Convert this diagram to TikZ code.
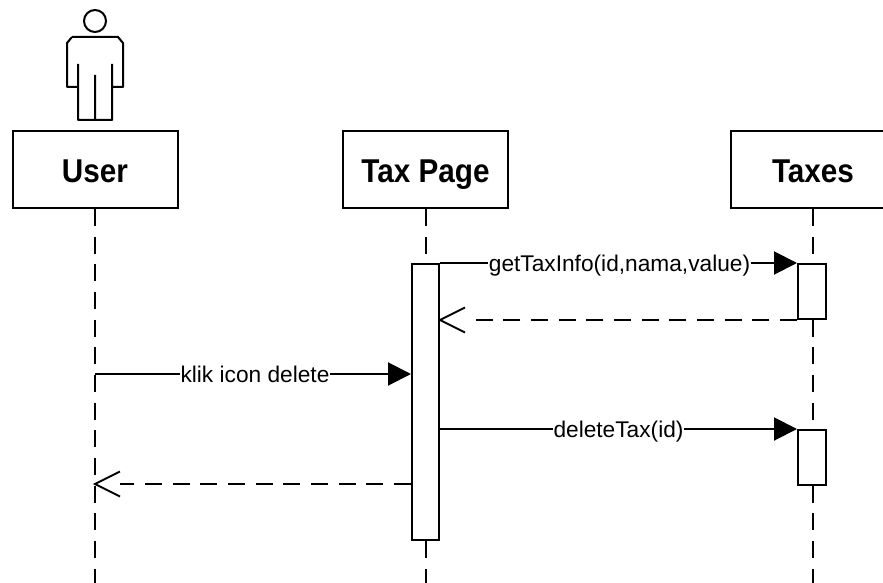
\documentclass[tikz,border=0pt]{standalone}
\usepackage{fontspec}
\setmainfont{Liberation Sans}
\newfontfamily\headfont[FakeStretch=0.9]{Liberation Sans}
\usetikzlibrary{arrows.meta}
\tikzset{
    head/.style={draw,line width=2pt,fill=white,minimum width=165pt,minimum height=77pt,inner sep=0pt,text height=25pt,text depth=0pt,font=\fontsize{33}{36}\headfont\bfseries},
    lifeline/.style={line width=2pt,dash pattern=on 17pt off 10.67pt},
    bar/.style={draw,line width=2pt,fill=white,inner sep=0pt,anchor=north},
    call/.style={line width=2pt,-{Triangle[length=23pt,width=23pt]}},
    back/.style={line width=2pt,dash pattern=on 17pt off 10.67pt,shorten >=25pt},
    barb/.style={line width=2pt,line join=miter},
    msg/.style={fill=white,inner sep=0.5pt,text height=18pt,text depth=1pt,font=\fontsize{22.7}{25}\selectfont}
}
\begin{document}
\begin{tikzpicture}[x=1pt,y=-1pt]
    \useasboundingbox (0,0) rectangle (883,583);
    \clip (0,0) rectangle (883,583);
    \fill[white] (0,0) rectangle (883,583);
    % heads and lifelines
    \foreach \name/\txt/\x in {user/User/95,taxpage/Tax Page/425.5,taxes/Taxes/813}{
        \node[head] (\name) at (\x,169.5) {\txt};
        \coordinate (\name end) at (\x,583);
        \draw[lifeline] (\name.south) -- (\name end);
    }
    % actor
    \node[draw,circle,line width=2pt,minimum size=22pt,inner sep=0pt] (userhead) at (95,21) {};
    \draw[line width=2pt,line join=round] (72,37) -- (118,37) -- (123,43) -- (123,87) -- (112,87)
        (112,64) -- (112,120) -- (78,120) -- (78,64)
        (78,87) -- (67,87) -- (67,43) -- (72,37)
        (95,75) -- (95,120);
    % activations
    \node[bar,minimum width=27pt,minimum height=276pt] (taxpagebar) at (425.5,263) {};
    \node[bar,minimum width=28pt,minimum height=55pt] (taxesbar) at (812,263) {};
    \node[bar,minimum width=28pt,minimum height=55pt] (deletebar) at (812,429) {};
    \coordinate (klik) at (user.south |- 0,374);
    \coordinate (kembali) at (user.south |- 0,484);
    \coordinate (balas) at (taxesbar.south west -| taxpagebar.east);
    % messages
    \draw[call] (taxpagebar.north east) -- node[msg,xshift=1pt] (getinfo) {getTaxInfo(id,nama,value)} (taxesbar.north west);
    \draw[back] (taxesbar.south west) -- (balas);
    \draw[barb] (balas) ++(25,-12.5) -- (balas) -- ++(25,12.5);
    \draw[call] (klik) -- node[msg,xshift=2pt] (klikicon) {klik icon delete} (klik -| taxpagebar.west);
    \draw[call] (deletebar.north west -| taxpagebar.east) -- node[msg] (deletetax) {deleteTax(id)} (deletebar.north west);
    \draw[back] (kembali -| taxpagebar.west) -- (kembali);
    \draw[barb] (kembali) ++(25,-12.5) -- (kembali) -- ++(25,12.5);
\end{tikzpicture}
\end{document}
